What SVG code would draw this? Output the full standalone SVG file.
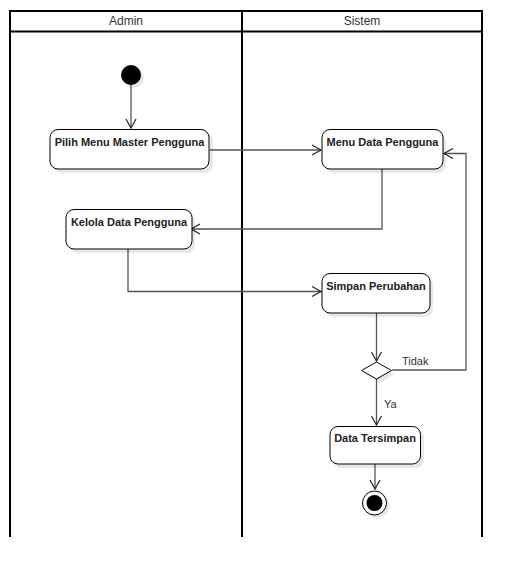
<svg xmlns="http://www.w3.org/2000/svg" width="522" height="578" viewBox="0 0 522 578">
<style>
.lane{fill:none;stroke:#000;stroke-width:2}
.hdr{font-family:"Liberation Sans",Arial,sans-serif;font-size:12px;fill:#333;text-anchor:middle}
.node{fill:#fff;stroke:#000;stroke-width:1}
.shadow{fill:#000;fill-opacity:0.09}
.lbl{font-family:"Liberation Sans",Arial,sans-serif;font-size:11px;font-weight:bold;fill:#222;text-anchor:middle}
.edge{fill:none;stroke:#555;stroke-width:1.3}
.elbl{font-family:"Liberation Sans",Arial,sans-serif;font-size:11px;fill:#333}
</style>
<defs>
<marker id="arr" markerWidth="12" markerHeight="12" refX="10" refY="6" orient="auto" markerUnits="userSpaceOnUse">
<path d="M1,1 L10,6 L1,11" fill="none" stroke="#222" stroke-width="1.2"/>
</marker>
</defs>
<rect width="522" height="578" fill="#fff"/>
<g id="swimlanes">
<path class="lane" d="M10,537 V11 H482 V537 M242,11 V537 M10,31.5 H482"/>
<text class="hdr" x="126" y="25">Admin</text>
<text class="hdr" x="362" y="25">Sistem</text>
</g>
<g id="connectors">
<path class="edge" d="M131,85 V128" marker-end="url(#arr)"/>
<path class="edge" d="M210,150 H321" marker-end="url(#arr)"/>
<path class="edge" d="M382,169 V229 H191" marker-end="url(#arr)"/>
<path class="edge" d="M128,249 V291.5 H321" marker-end="url(#arr)"/>
<path class="edge" d="M376.5,313 V361" marker-end="url(#arr)"/>
<path class="edge" d="M392,370 H466 V153.5 H444" marker-end="url(#arr)"/>
<path class="edge" d="M376.5,379 V425" marker-end="url(#arr)"/>
<path class="edge" d="M375,464 V489" marker-end="url(#arr)"/>
<text class="elbl" x="402" y="365">Tidak</text>
<text class="elbl" x="384" y="408">Ya</text>
</g>
<g id="start">
<circle class="shadow" cx="134" cy="78" r="10"/>
<circle cx="131" cy="75" r="10" fill="#000"/>
</g>
<g id="pilih-menu">
<rect class="shadow" x="53" y="133" width="160" height="40" rx="8"/>
<rect class="node" x="50" y="129.5" width="159" height="39.5" rx="8"/>
<text class="lbl" x="129.5" y="146">Pilih Menu Master Pengguna</text>
</g>
<g id="menu-data">
<rect class="shadow" x="325" y="133" width="121" height="40" rx="8"/>
<rect class="node" x="322" y="129.5" width="121" height="39.5" rx="8"/>
<text class="lbl" x="382.5" y="146">Menu Data Pengguna</text>
</g>
<g id="kelola">
<rect class="shadow" x="69" y="213" width="126" height="40" rx="8"/>
<rect class="node" x="66" y="209.5" width="126" height="39.5" rx="8"/>
<text class="lbl" x="129" y="226">Kelola Data Pengguna</text>
</g>
<g id="simpan">
<rect class="shadow" x="325" y="277" width="108" height="40" rx="8"/>
<rect class="node" x="322" y="273.5" width="108" height="39.5" rx="8"/>
<text class="lbl" x="376" y="290">Simpan Perubahan</text>
</g>
<g id="decision">
<path class="shadow" d="M380,366 L395,374 L380,383 L365,374 Z"/>
<path d="M376.5,362 L391.5,370.5 L376.5,379 L361.5,370.5 Z" fill="#fff" stroke="#000" stroke-width="1"/>
</g>
<g id="data-tersimpan">
<rect class="shadow" x="333" y="430" width="91" height="38" rx="8"/>
<rect class="node" x="330" y="426.5" width="90.5" height="37.5" rx="8"/>
<text class="lbl" x="375" y="442">Data Tersimpan</text>
</g>
<g id="end">
<circle class="shadow" cx="377" cy="506" r="12.5"/>
<circle cx="374.5" cy="503" r="12" fill="#fff" stroke="#000" stroke-width="1"/>
<circle cx="374.5" cy="503" r="8" fill="#000"/>
</g>
</svg>
